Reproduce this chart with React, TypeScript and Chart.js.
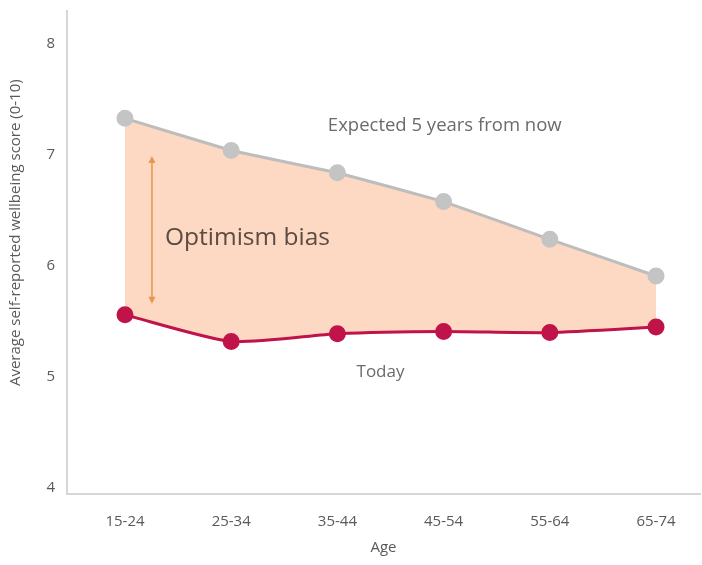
import React, { useEffect, useRef } from "react";
import { Chart, registerables } from "chart.js";

Chart.register(...registerables);

const categories = ["15-24", "25-34", "35-44", "45-54", "55-64", "65-74"];
const expectedValues = [7.33, 7.04, 6.84, 6.58, 6.24, 5.91];
const todayValues = [5.56, 5.32, 5.39, 5.41, 5.4, 5.45];
const yTicks = [4, 5, 6, 7, 8];
const yTitle = "Average self-reported wellbeing score (0-10)";

const FONT = "'Open Sans', 'Liberation Sans', sans-serif";

const annotationPlugin = {
  id: "annotations",
  afterDatasetsDraw(chart: any) {
    const { ctx, scales } = chart;
    const x = scales.x;
    const y = scales.y;
    ctx.save();
    // arrow
    const ax = x.getPixelForValue(0.254);
    const ay1 = y.getPixelForValue(6.99);
    const ay2 = y.getPixelForValue(5.66);
    ctx.strokeStyle = "#E6974F";
    ctx.fillStyle = "#E6974F";
    ctx.lineWidth = 1.5;
    ctx.beginPath();
    ctx.moveTo(ax, ay1 + 4);
    ctx.lineTo(ax, ay2 - 4);
    ctx.stroke();
    ctx.beginPath();
    ctx.moveTo(ax, ay1);
    ctx.lineTo(ax - 3.5, ay1 + 7);
    ctx.lineTo(ax + 3.5, ay1 + 7);
    ctx.closePath();
    ctx.fill();
    ctx.beginPath();
    ctx.moveTo(ax, ay2);
    ctx.lineTo(ax - 3.5, ay2 - 7);
    ctx.lineTo(ax + 3.5, ay2 - 7);
    ctx.closePath();
    ctx.fill();

    ctx.textBaseline = "middle";
    ctx.textAlign = "left";
    ctx.fillStyle = "#5a4b43";
    ctx.font = `24.5px ${FONT}`;
    ctx.fillText("Optimism bias", x.getPixelForValue(0.377), y.getPixelForValue(6.25));

    ctx.fillStyle = "#6b6b6b";
    ctx.font = `18.5px ${FONT}`;
    ctx.fillText("Expected 5 years from now", x.getPixelForValue(1.91), y.getPixelForValue(7.26));
    ctx.font = `17px ${FONT}`;
    ctx.fillText("Today", x.getPixelForValue(2.18), y.getPixelForValue(5.04));

    // y axis title
    ctx.translate(16, y.getPixelForValue(6.3));
    ctx.rotate(-Math.PI / 2);
    ctx.textAlign = "center";
    ctx.fillStyle = "#595959";
    ctx.font = `15px ${FONT}`;
    ctx.fillText(yTitle, 0, 0);
    ctx.restore();
  },
};

export default function App() {
  const canvasRef = useRef<HTMLCanvasElement | null>(null);

  useEffect(() => {
    if (!canvasRef.current) return;
    const chart = new Chart(canvasRef.current, {
      type: "line",
      data: {
        datasets: [
          {
            label: "Today",
            data: todayValues.map((v, i) => ({ x: i, y: v })),
            borderColor: "#C0134A",
            backgroundColor: "#C0134A",
            pointBackgroundColor: "#C0134A",
            pointBorderColor: "#C0134A",
            pointRadius: 7,
            borderWidth: 3,
            fill: false,
            tension: 0.2,
          },
          {
            label: "Expected 5 years from now",
            data: expectedValues.map((v, i) => ({ x: i, y: v })),
            borderColor: "#BDBDBD",
            backgroundColor: "#FDD8C2",
            pointBackgroundColor: "#C4C4C4",
            pointBorderColor: "#C4C4C4",
            pointRadius: 7,
            borderWidth: 3,
            fill: "-1",
            tension: 0.05,
          },
        ],
      },
      options: {
        animation: false,
        responsive: true,
        maintainAspectRatio: false,
        layout: { padding: { left: 31, right: 2, top: 0, bottom: 8 } },
        plugins: {
          legend: { display: false },
          tooltip: { enabled: false },
        },
        scales: {
          x: {
            type: "linear",
            min: -0.546,
            max: 5.414,
            grid: { display: false, drawTicks: false },
            border: { color: "#D6D6D6", width: 2 },
            afterBuildTicks(scale: any) {
              scale.ticks = categories.map((_, i) => ({ value: i }));
            },
            ticks: {
              color: "#595959",
              font: { family: FONT, size: 15 },
              padding: 19,
              callback: (v: any) => categories[Number(v)] ?? "",
            },
            title: {
              display: true,
              text: "Age",
              color: "#595959",
              font: { family: FONT, size: 15 },
              padding: { top: 0, bottom: 0 },
            },
            afterFit(scale: any) {
              scale.height = 63;
            },
          },
          y: {
            min: 3.946,
            max: 8.297,
            grid: { display: false, drawTicks: false },
            border: { color: "#D6D6D6", width: 2 },
            ticks: { color: "#595959", font: { family: FONT, size: 15 }, padding: 12 },
            afterBuildTicks(scale: any) {
              scale.ticks = yTicks.map((v) => ({ value: v }));
            },
            afterFit(scale: any) {
              scale.width = 36;
            },
          },
        },
      },
      plugins: [annotationPlugin],
    });
    return () => chart.destroy();
  }, []);

  return (
    <div style={{ position: "absolute", left: 0, top: 0, width: 702, height: 565, overflow: "hidden", background: "#fff" }}>
      <div style={{ position: "absolute", left: 0, top: -10, width: 710, height: 575 }}>
        <canvas ref={canvasRef} />
      </div>
    </div>
  );
}
